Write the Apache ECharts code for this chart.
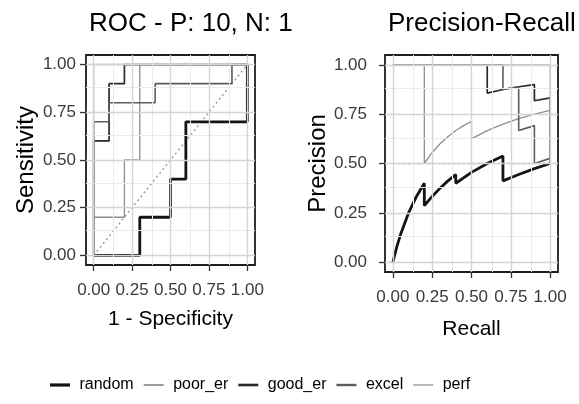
<!DOCTYPE html>
<html><head><meta charset="utf-8">
<script src="https://cdn.jsdelivr.net/npm/echarts@6/dist/echarts.min.js"></script>
<style>html,body{margin:0;padding:0;background:#fff}#c{width:579px;height:404px}</style>
</head><body><div id="c"></div>
<script>
// ---- data ----
const seriesNames = ['random', 'poor_er', 'good_er', 'excel', 'perf'];
const tickValues = [0, 0.25, 0.5, 0.75, 1];
const minorBreaks = [0.125, 0.375, 0.625, 0.875];

// ROC: x = 1 - Specificity, y = Sensitivity
const rocRandomX = [0, 0.3, 0.3, 0.5, 0.5, 0.6, 0.6, 1, 1];
const rocRandomY = [0, 0, 0.2, 0.2, 0.4, 0.4, 0.7, 0.7, 1];
const rocPoorX = [0, 0, 0.2, 0.2, 0.3, 0.3, 1];
const rocPoorY = [0, 0.2, 0.2, 0.5, 0.5, 1, 1];
const rocGoodX = [0, 0, 0.1, 0.1, 0.2, 0.2, 1];
const rocGoodY = [0, 0.6, 0.6, 0.9, 0.9, 1, 1];
const rocExcelX = [0, 0, 0.1, 0.1, 0.4, 0.4, 0.9, 0.9, 1];
const rocExcelY = [0, 0.7, 0.7, 0.8, 0.8, 0.9, 0.9, 1, 1];
const rocPerfX = [0, 0, 1];
const rocPerfY = [0, 1, 1];
const rocDiagX = [0, 1];
const rocDiagY = [0, 1];

// Precision-Recall: x = Recall, y = Precision
const prRandomX = [0, 0.025, 0.05, 0.1, 0.15, 0.2, 0.2, 0.25, 0.3, 0.35, 0.4, 0.4, 0.5, 0.6, 0.7, 0.7, 0.8, 0.9, 1];
const prRandomY = [0, 0.077, 0.143, 0.25, 0.333, 0.4, 0.286, 0.333, 0.375, 0.412, 0.444, 0.4, 0.455, 0.5, 0.538, 0.412, 0.444, 0.474, 0.5];
const prPoorX = [0, 0.2, 0.2, 0.25, 0.3, 0.35, 0.4, 0.45, 0.5, 0.5, 0.6, 0.7, 0.8, 0.9, 1, 1];
const prPoorY = [1, 1, 0.5, 0.556, 0.6, 0.636, 0.667, 0.692, 0.714, 0.625, 0.667, 0.7, 0.727, 0.75, 0.769, 0.5];
const prGoodX = [0, 0.6, 0.6, 0.7, 0.8, 0.9, 0.9, 1, 1];
const prGoodY = [1, 1, 0.857, 0.875, 0.889, 0.9, 0.818, 0.833, 0.5];
const prExcelX = [0, 0.7, 0.7, 0.8, 0.8, 0.9, 0.9, 1, 1];
const prExcelY = [1, 1, 0.875, 0.889, 0.667, 0.692, 0.5, 0.526, 0.5];
const prPerfX = [0, 1, 1];
const prPerfY = [1, 1, 0.5];
const prBaseX = [0, 1];
const prBaseY = [0.5, 0.5];

// ---- styling ----
const FONT = '"Liberation Sans", Arial, sans-serif';
const styles = {
  random:  { color: '#141414', width: 2.8, key: 3.2 },
  poor_er: { color: '#8e8e8e', width: 1.3, key: 1.8 },
  good_er: { color: '#2a2a2a', width: 1.7, key: 2.6 },
  excel:   { color: '#5c5c5c', width: 1.6, key: 2.4 },
  perf:    { color: '#b0b0b0', width: 1.4, key: 1.8 }
};
const zip = (xs, ys) => xs.map((x, i) => [x, ys[i]]);

const rocData = {
  random: zip(rocRandomX, rocRandomY), poor_er: zip(rocPoorX, rocPoorY),
  good_er: zip(rocGoodX, rocGoodY), excel: zip(rocExcelX, rocExcelY), perf: zip(rocPerfX, rocPerfY)
};
const prData = {
  random: zip(prRandomX, prRandomY), poor_er: zip(prPoorX, prPoorY),
  good_er: zip(prGoodX, prGoodY), excel: zip(prExcelX, prExcelY), perf: zip(prPerfX, prPerfY)
};

function gridLines() {
  const d = [];
  minorBreaks.forEach(v => {
    d.push({ xAxis: v, lineStyle: { color: '#ebebeb', width: 1, type: 'solid' } });
    d.push({ yAxis: v, lineStyle: { color: '#ebebeb', width: 1, type: 'solid' } });
  });
  tickValues.forEach(v => {
    d.push({ xAxis: v, lineStyle: { color: '#d4d4d4', width: 1.4, type: 'solid' } });
    d.push({ yAxis: v, lineStyle: { color: '#d4d4d4', width: 1.4, type: 'solid' } });
  });
  return d;
}

function makeAxis(gridIndex, name, gap, isX, margin) {
  return {
    type: 'value', gridIndex, min: -0.05, max: 1.05,
    name, nameLocation: 'middle', nameGap: gap,
    nameTextStyle: { color: '#000', fontSize: isX ? 21 : 24, fontFamily: FONT },
    axisLine: { show: false, onZero: false },
    splitLine: { show: false },
    axisTick: { show: true, customValues: tickValues, length: 6, lineStyle: { color: '#333', width: 1.3 } },
    axisLabel: { customValues: tickValues, formatter: v => v.toFixed(2), color: '#3a3a3a',
                 fontSize: 17, fontFamily: FONT, margin }
  };
}

const series = [];
[0, 1].forEach(g => {
  series.push({
    type: 'line', xAxisIndex: g, yAxisIndex: g, data: [], silent: true, z: 1,
    markLine: { silent: true, symbol: 'none', label: { show: false }, animation: false, data: gridLines() }
  });
  const ref = g === 0 ? zip(rocDiagX, rocDiagY) : zip(prBaseX, prBaseY);
  series.push({
    type: 'line', xAxisIndex: g, yAxisIndex: g, data: ref, silent: true, z: 2,
    symbol: 'none', lineStyle: { color: '#a0a0a0', width: 1.5, type: [2, 3] }
  });
  seriesNames.forEach(n => {
    series.push({
      name: n, type: 'line', xAxisIndex: g, yAxisIndex: g, z: 3,
      data: (g === 0 ? rocData : prData)[n], symbol: 'none', showSymbol: false,
      lineStyle: { color: styles[n].color, width: styles[n].width }, itemStyle: { color: styles[n].color },
      emphasis: { disabled: true }
    });
  });
});

// legend key: a horizontal bar centred in a 20x10 box
const keyIcon = t => 'path://M0,0M20,10M0,' + (5 - t / 2) + 'H20V' + (5 + t / 2) + 'H0Z';

const chart = echarts.init(document.getElementById('c'), null, { renderer: 'canvas' });
chart.setOption({
  animation: false,
  backgroundColor: '#fff',
  title: [
    { text: 'ROC - P: 10, N: 10', left: 84, top: 6,
      textStyle: { fontSize: 26, fontWeight: 'normal', color: '#000', fontFamily: FONT, width: 212, overflow: 'truncate', ellipsis: '' } },
    { text: 'Precision-Recall', left: 383, top: 6,
      textStyle: { fontSize: 26, fontWeight: 'normal', color: '#000', fontFamily: FONT } }
  ],
  grid: [
    { left: 86, top: 55, width: 169, height: 210, show: true, borderColor: '#1e1e1e', borderWidth: 1.8, backgroundColor: '#fff', containLabel: false, outerBoundsMode: 'none' },
    { left: 385, top: 55, width: 173, height: 217, show: true, borderColor: '#1e1e1e', borderWidth: 1.8, backgroundColor: '#fff', containLabel: false, outerBoundsMode: 'none' }
  ],
  xAxis: [makeAxis(0, '1 - Specificity', 44, true, 17), makeAxis(1, 'Recall', 47, true, 17)],
  yAxis: [makeAxis(0, 'Sensitivity', 48, false, 10), makeAxis(1, 'Precision', 52, false, 18)],
  legend: {
    data: seriesNames.map(n => ({ name: n, icon: keyIcon(styles[n].key) })),
    left: 45, top: 372, itemWidth: 20, itemHeight: 10, itemGap: 10,
    formatter: n => ' ' + n,
    textStyle: { fontSize: 16, color: '#000', fontFamily: FONT },
    selectedMode: false
  },
  series
});
</script>
</body></html>
